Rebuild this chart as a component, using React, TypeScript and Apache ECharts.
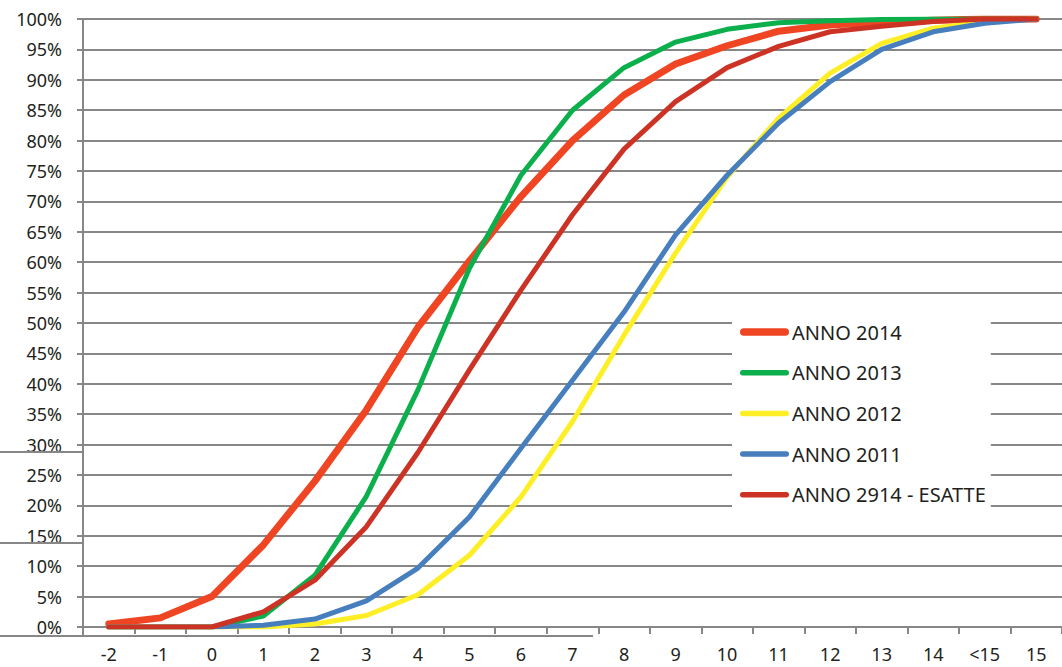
import React, { useEffect, useRef } from "react";
import * as echarts from "echarts";

const categories = ["-2", "-1", "0", "1", "2", "3", "4", "5", "6", "7", "8", "9", "10", "11", "12", "13", "14", "<15", "15"];

const anno2014 = [0.5, 1.5, 5, 13.5, 24, 35.7, 49.3, 60.2, 70.8, 80, 87.5, 92.6, 95.6, 98, 99, 99.5, 99.8, 100, 100];
const anno2013 = [0, 0, 0, 1.8, 8.5, 21.5, 39, 59, 74.3, 85, 92, 96.2, 98.3, 99.4, 99.7, 99.9, 100, 100, 100];
const anno2012 = [0, 0, 0, 0, 0.5, 1.9, 5.3, 11.8, 21.4, 33.8, 48, 61.5, 74, 83.7, 91.1, 96, 98.5, 99.6, 100];
const anno2011 = [0, 0, 0, 0.3, 1.3, 4.3, 9.7, 18.1, 29.4, 40.6, 51.8, 64.5, 74.3, 82.9, 89.7, 95, 97.9, 99.3, 100];
const anno2914 = [0, 0, 0, 2.5, 7.7, 16.5, 28.7, 42.3, 55.4, 67.8, 78.6, 86.4, 92, 95.5, 97.9, 98.8, 99.6, 100, 100];

const seriesNames = ["ANNO 2014", "ANNO 2013", "ANNO 2012", "ANNO 2011", "ANNO 2914 - ESATTE"];
const seriesData = [anno2014, anno2013, anno2012, anno2011, anno2914];
const seriesColors = ["#EF4523", "#0BB04C", "#FDEE26", "#467EBE", "#CC3324"];
const seriesWidths = [7, 5, 5, 5, 5];

const GRID = "#878787";
const TEXT = "#231F20";
const FONT = "Noto Sans";

// capsule legend icon inside a 49x20 box (tiny corner segments fix the box size)
function capsuleIcon(t: number) {
  const r = t / 2;
  const y0 = 10 - r;
  const y1 = 10 + r;
  return (
    "path://M0,0L0.001,0ZM49,20L48.999,20Z" +
    `M${r},${y0}L${49 - r},${y0}A${r},${r},0,0,1,${49 - r},${y1}L${r},${y1}A${r},${r},0,0,1,${r},${y0}Z`
  );
}

export default function App() {
  const ref = useRef<HTMLDivElement>(null);

  useEffect(() => {
    if (!ref.current) return;
    const chart = echarts.init(ref.current, null, { renderer: "svg" });
    const gl = (x1: number, y1: number, x2: number, y2: number) => ({
      type: "line",
      shape: { x1, y1, x2, y2 },
      style: { stroke: GRID, lineWidth: 2 },
      z: 1,
    });
    chart.setOption({
      animation: false,
      backgroundColor: "#ffffff",
      grid: { left: 83, right: -9, top: 19, bottom: 40, containLabel: false },
      xAxis: {
        type: "category",
        data: categories,
        boundaryGap: true,
        axisLine: { show: true, lineStyle: { color: GRID, width: 2 } },
        axisTick: { show: true, length: 7, interval: 0, lineStyle: { color: GRID, width: 2 } },
        axisLabel: { interval: 0, margin: 18, fontSize: 18, fontFamily: FONT, color: TEXT },
        splitLine: { show: false },
      },
      yAxis: {
        type: "value",
        min: 0,
        max: 100,
        interval: 5,
        axisLine: { show: true, lineStyle: { color: GRID, width: 2 } },
        axisTick: { show: true, length: 6, lineStyle: { color: GRID, width: 2 } },
        axisLabel: { margin: 21, fontSize: 18, fontFamily: FONT, color: TEXT, formatter: "{value}%" },
        splitLine: { show: true, lineStyle: { color: GRID, width: 2 } },
      },
      legend: {
        orient: "vertical",
        left: 732,
        top: 308,
        padding: [14, 5, 12, 8],
        backgroundColor: "#ffffff",
        itemWidth: 49,
        itemHeight: 20,
        itemGap: 20.7,
        itemStyle: { borderWidth: 0 },
        textStyle: { fontSize: 20, fontFamily: FONT, color: TEXT, padding: [0, 0, 0, -2] },
        data: seriesNames.map((name, i) => ({
          name,
          icon: capsuleIcon(seriesWidths[i] + 0.5),
          itemStyle: { color: seriesColors[i], borderWidth: 0 },
        })),
      },
      graphic: [
        gl(0, 452, 83, 452),
        gl(0, 543, 83, 543),
        gl(0, 636, 593, 636),
        gl(83, 626, 83, 636),
      ],
      series: seriesNames.map((name, i) => ({
        name,
        type: "line",
        data: seriesData[i],
        symbol: "none",
        showSymbol: false,
        z: 2 + i,
        lineStyle: { color: seriesColors[i], width: seriesWidths[i], cap: "round", join: "round" },
        itemStyle: { color: seriesColors[i] },
      })),
    });
    return () => chart.dispose();
  }, []);

  return (
    <div
      ref={ref}
      style={{ position: "absolute", left: 0, top: 0, width: 1062, height: 667 }}
    />
  );
}
